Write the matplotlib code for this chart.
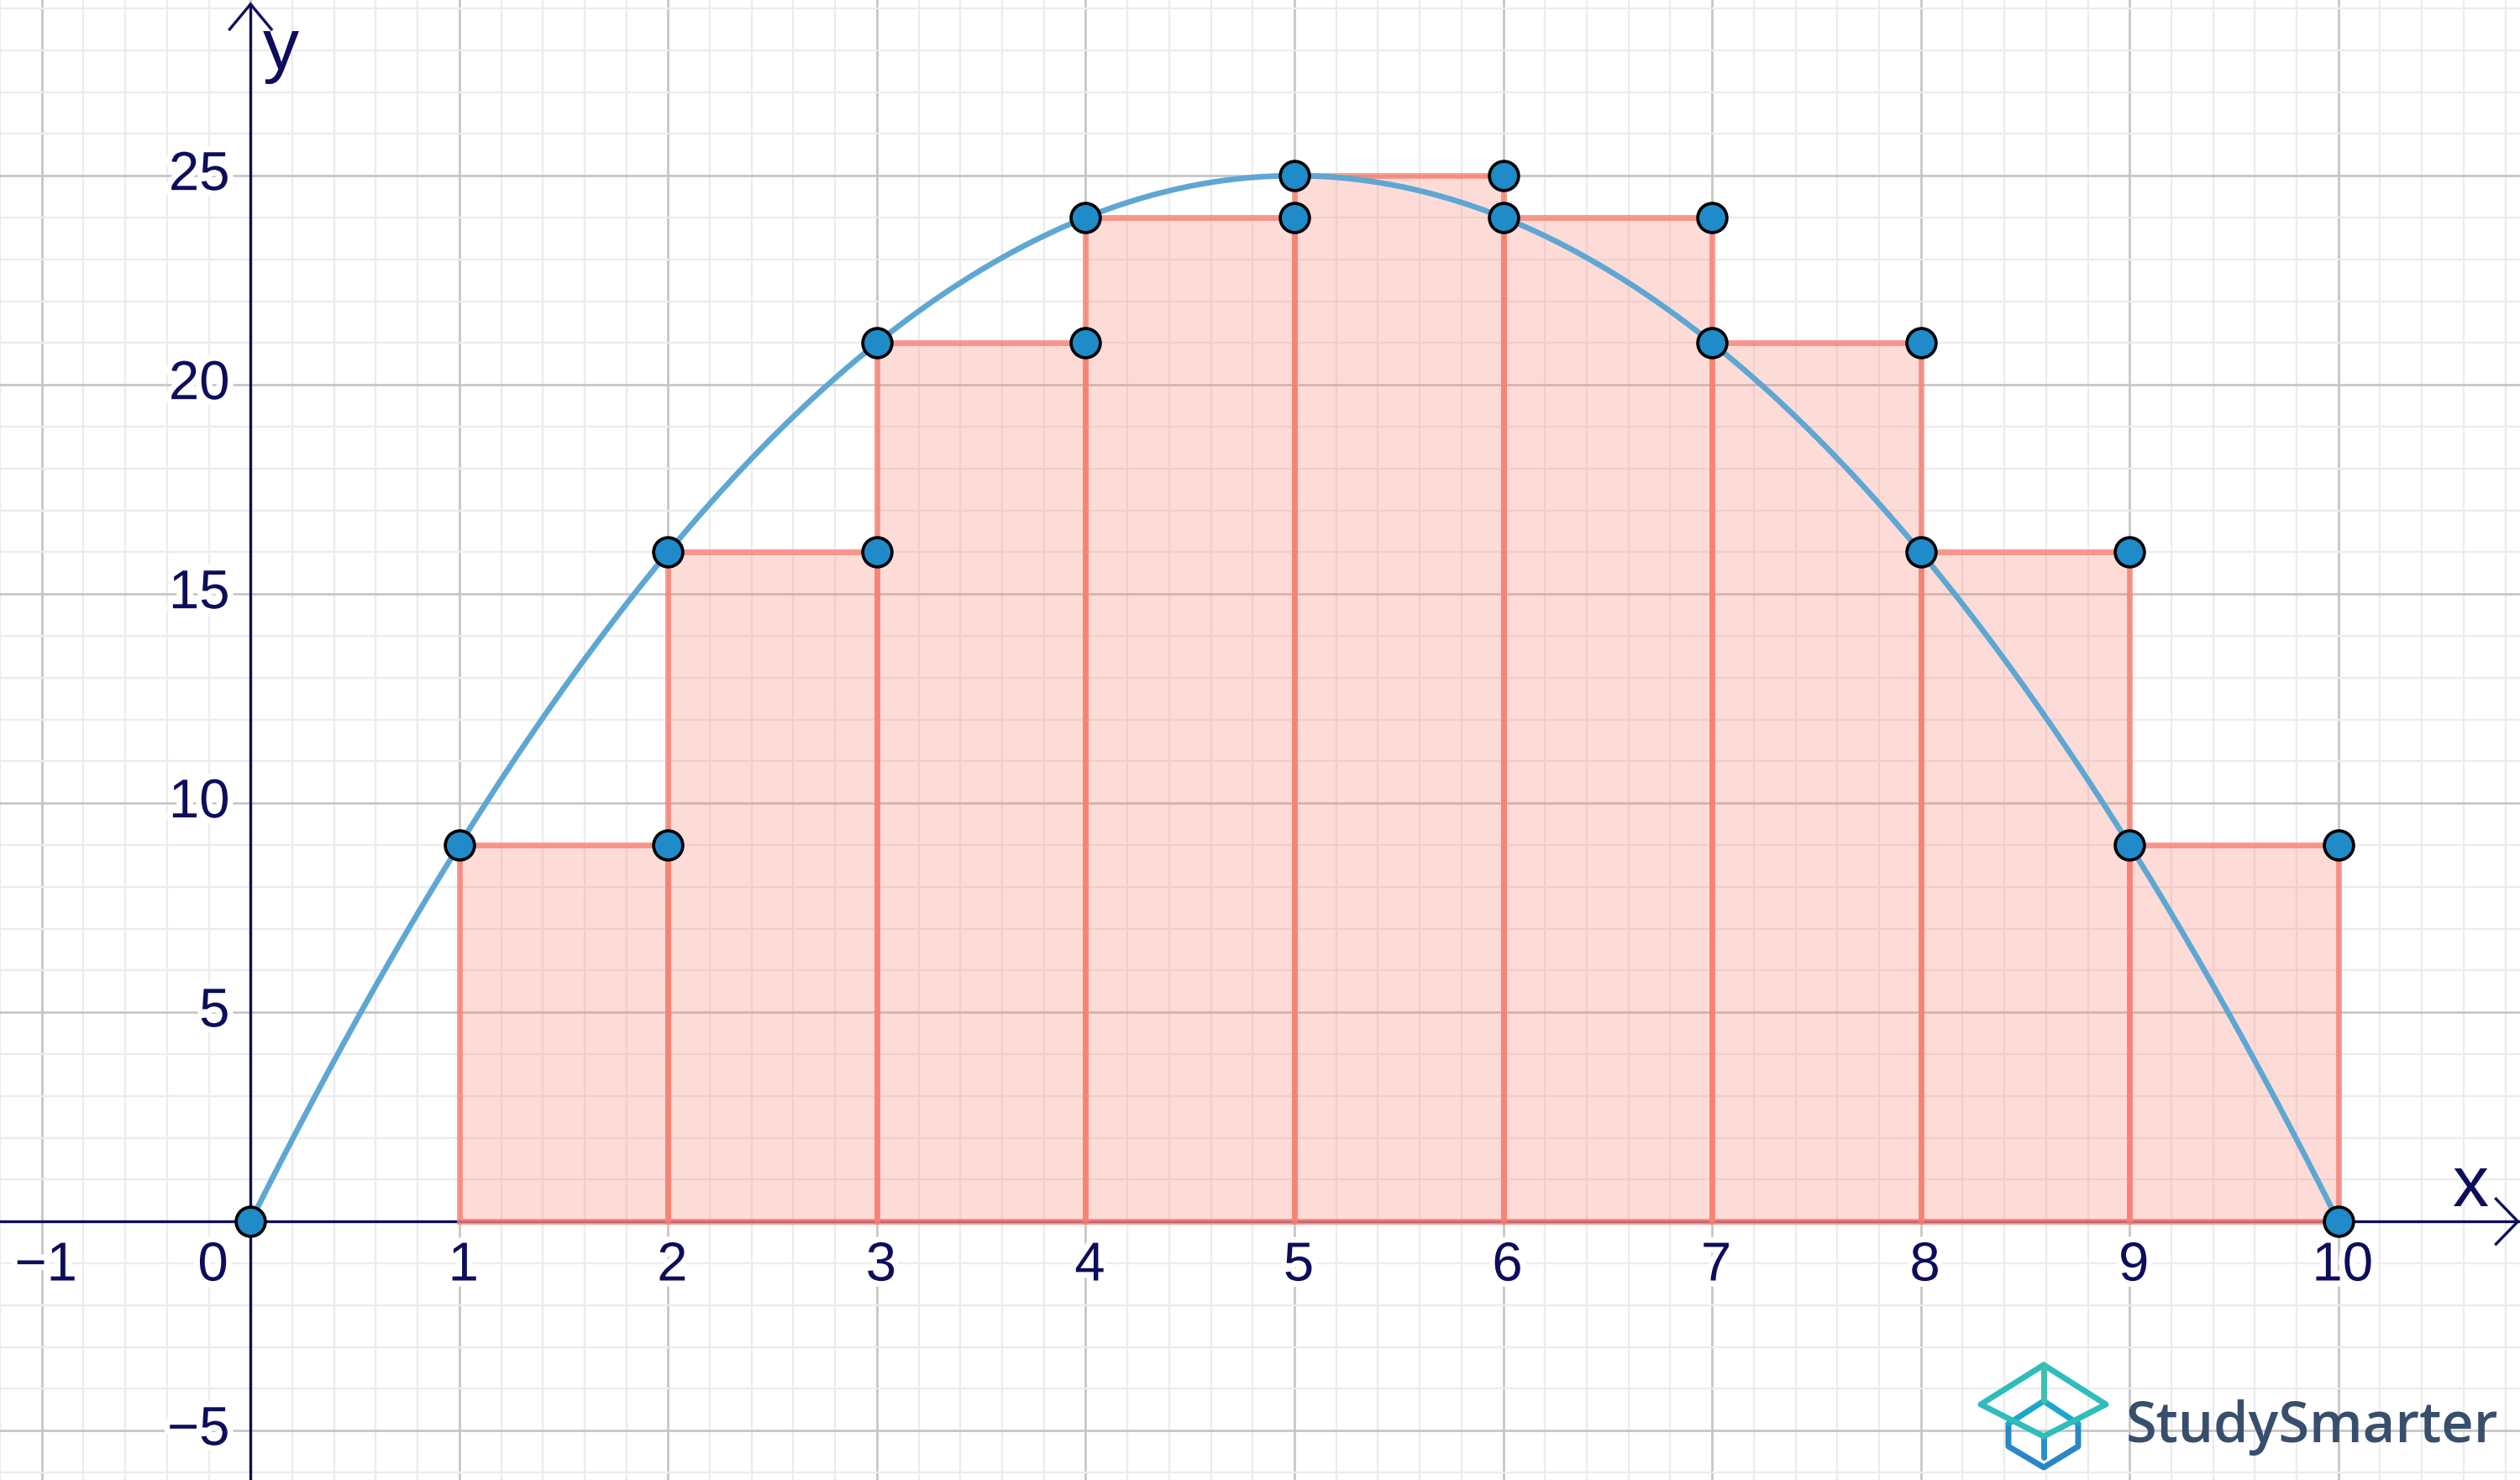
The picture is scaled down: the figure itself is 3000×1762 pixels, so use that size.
import matplotlib
matplotlib.use("Agg")
import matplotlib.pyplot as plt
import matplotlib.patheffects as pe
from matplotlib.lines import Line2D
import numpy as np

# function values read at the integers (curve through them)
curve_x = [0, 1, 2, 3, 4, 5, 6, 7, 8, 9, 10]
curve_y = [0, 9, 16, 21, 24, 25, 24, 21, 16, 9, 0]

# left-endpoint rectangles
rect_left = [1, 2, 3, 4, 5, 6, 7, 8, 9]
rect_height = [9, 16, 21, 24, 25, 24, 21, 16, 9]

# marked points
pts_x = [0, 1, 2, 2, 3, 3, 4, 4, 5, 5, 6, 6, 7, 7, 8, 8, 9, 9, 10, 10]
pts_y = [0, 9, 9, 16, 16, 21, 21, 24, 24, 25, 25, 24, 24, 21, 21, 16, 16, 9, 9, 0]

xtick_vals = [-1, 1, 2, 3, 4, 5, 6, 7, 8, 9, 10]
ytick_vals = [-5, 5, 10, 15, 20, 25]

navy = "#0d0d5c"
salmon = (250 / 255, 128 / 255, 114 / 255)

fig = plt.figure(figsize=(30, 17.62), dpi=100)
ax = fig.add_axes([0, 0, 1, 1])
ax.set_xlim(-1.177, 10.87)
ax.set_ylim(-6.18, 29.2)
for s in ax.spines.values():
    s.set_visible(False)

ax.set_xticks(np.arange(-1, 11, 1))
ax.set_xticks(np.arange(-1.2, 11, 0.2), minor=True)
ax.set_yticks(np.arange(-5, 30, 5))
ax.set_yticks(np.arange(-6, 30, 1), minor=True)
ax.tick_params(which="both", length=0, labelbottom=False, labelleft=False)
ax.grid(which="minor", color="#ececec", linewidth=1.6, zorder=0)
ax.grid(which="major", color="#c4c4c4", linewidth=1.9, zorder=0)
ax.set_axisbelow(True)

# axes with open arrow heads
x0, x1 = ax.get_xlim()
y0, y1 = ax.get_ylim()
ax.plot([x0, 10.86], [0, 0], color=navy, lw=2.4, zorder=1)
ax.plot([0, 0], [y0, 29.1], color=navy, lw=2.4, zorder=1)
ax.plot([10.755, 10.86, 10.755], [0.54, 0, -0.54], color=navy, lw=2.4, zorder=1,
        solid_joinstyle="miter")
ax.plot([-0.1, 0, 0.1], [28.5, 29.1, 28.5], color=navy, lw=2.4, zorder=1,
        solid_joinstyle="miter")

# rectangles
ax.bar(rect_left, rect_height, width=1, align="edge",
       facecolor=salmon + (0.27,), edgecolor=salmon + (0.78,),
       linewidth=5, zorder=2)

# curve
coef = np.polyfit(curve_x, curve_y, 2)
xs = np.linspace(curve_x[0], curve_x[-1], 400)
ax.plot(xs, np.polyval(coef, xs), color="#5ea7d3", lw=4.8, zorder=3,
        solid_capstyle="round")

ax.plot(pts_x, pts_y, "o", ms=25, mfc="#1f8bc9", mec="black", mew=2.7, zorder=5)

# labels
stroke = [pe.withStroke(linewidth=10, foreground="white")]
tfont = dict(family="Liberation Sans", size=47, color=navy, path_effects=stroke, zorder=6)
for v in xtick_vals:
    lab = str(v).replace("-", "\u2212")
    ax.text(v + 0.02, -1.07, lab, ha="center", va="center", **tfont)
ax.text(-0.18, -1.07, "0", ha="center", va="center", **tfont)
for v in ytick_vals:
    lab = str(v).replace("-", "\u2212")
    ax.text(-0.1, v, lab, ha="right", va="center", **tfont)

ax.text(0.145, 28.0, "y", ha="center", va="center", family="Liberation Sans",
        size=62, color=navy, zorder=6)
ax.text(10.63, 0.8, "x", ha="center", va="center", family="Liberation Sans",
        size=62, color=navy, zorder=6)

# StudySmarter logo
W, H = 3000.0, 1762.0


def seg(pts, color):
    xx = [p[0] / W for p in pts]
    yy = [1 - p[1] / H for p in pts]
    fig.add_artist(Line2D(xx, yy, transform=fig.transFigure, color=color, lw=5,
                          solid_capstyle="round", solid_joinstyle="round", zorder=10))


seg([(2391, 1695), (2391, 1722), (2433, 1747), (2474, 1722), (2474, 1695)], "#2a86c8")
seg([(2433, 1710), (2433, 1735)], "#2a8fc8")
seg([(2391, 1695), (2433, 1668), (2474, 1695)], "#1ca6cc")
seg([(2433, 1625), (2358, 1672), (2433, 1710), (2507, 1672), (2433, 1625)], "#2fbcbc")
seg([(2433, 1625), (2433, 1668)], "#3cc0b0")

fig.text(2531 / W, 1 - 1717 / H, "StudySmarter", ha="left", va="baseline",
         family="Open Sans", weight="semibold", size=48, color="#374f6d", zorder=10)

fig.savefig("out.png", dpi=100, facecolor="white")
